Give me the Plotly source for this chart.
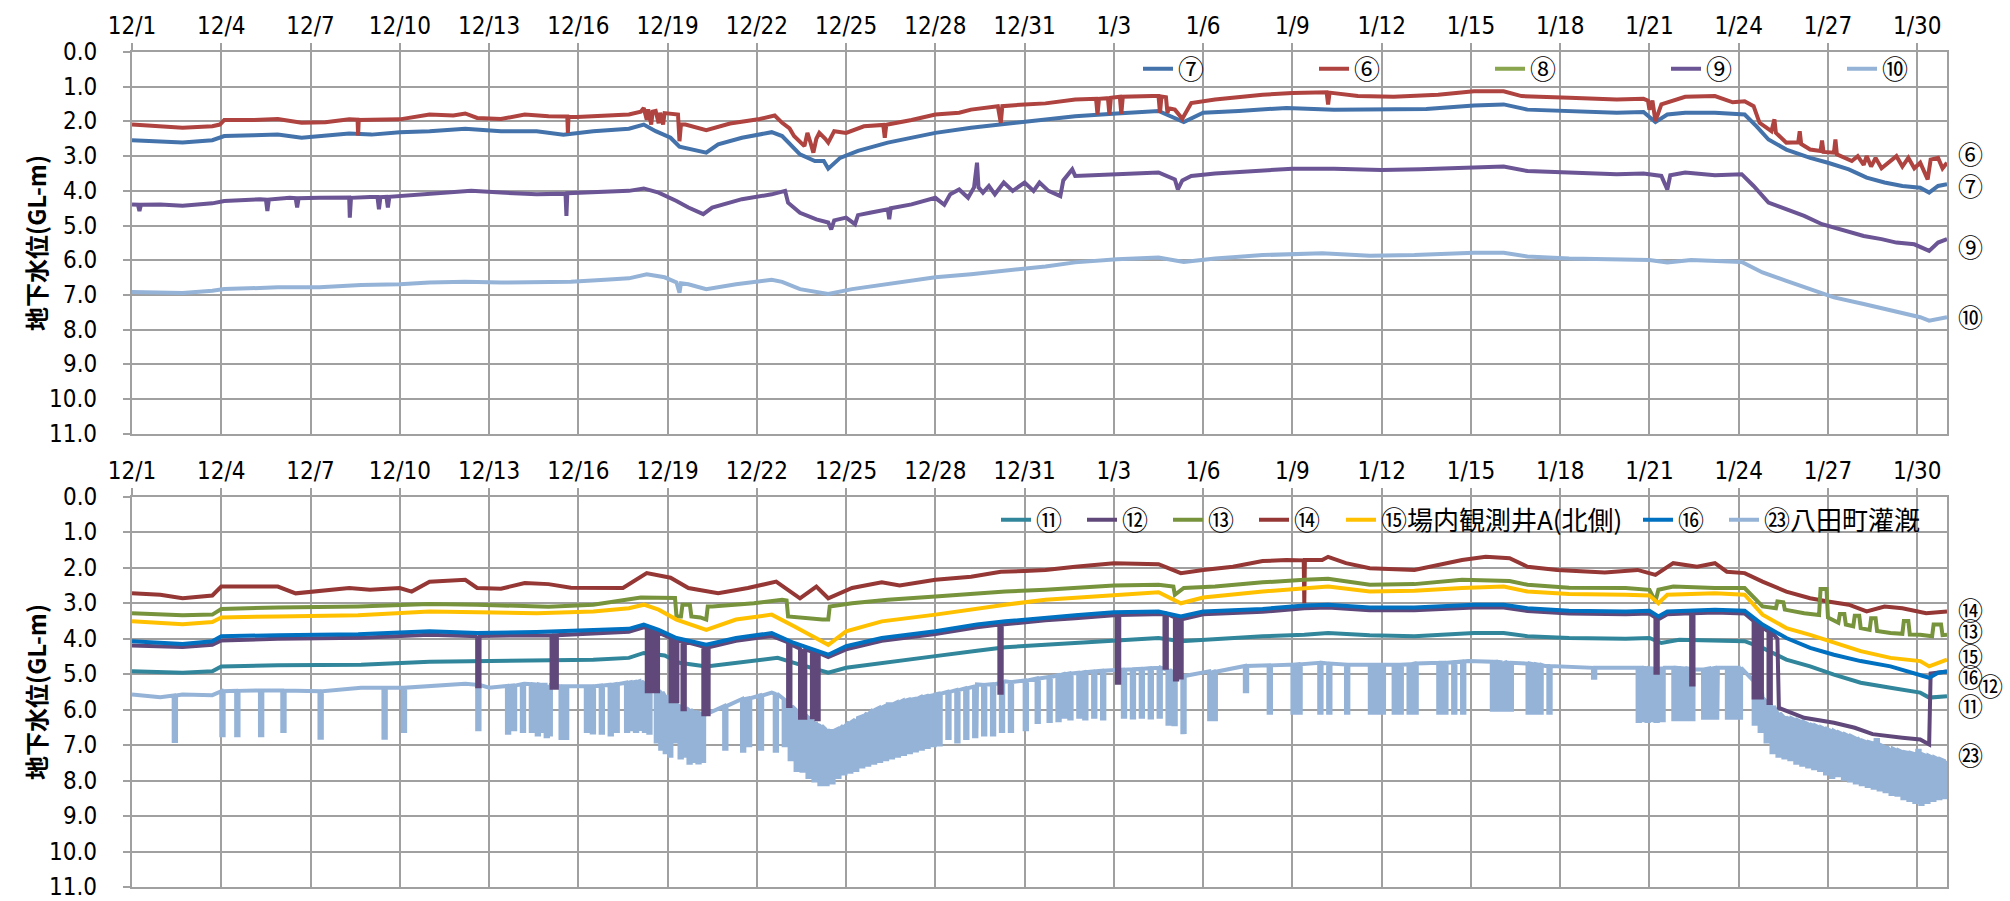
import pandas as pd
import plotly.graph_objects as go

# ---------------- data (day offset from 12/1 00:00, groundwater level GL-m) ----------------
BASE_DATE = "2023-12-01"
X_TICK_STEP_DAYS = 3
Y_TICKS = [0, 1, 2, 3, 4, 5, 6, 7, 8, 9, 10, 11]
Y_TICK_LABELS = ["0.0", "1.0", "2.0", "3.0", "4.0", "5.0", "6.0", "7.0", "8.0", "9.0", "10.0", "11.0"]

# upper chart
W6 = [[0,2.09],[0.95,2.14],[1.7,2.18],[2.7,2.14],[2.95,2.09],[3.1,1.96],[4.1,1.96],[4.9,1.93],[5.7,2.04],[6.5,2.02],
      [7.3,1.94],[7.58,1.95],[7.6,2.40],[7.62,1.96],[8.05,1.96],[9.0,1.94],[10.0,1.80],[10.8,1.83],[11.2,1.77],[11.6,1.90],
      [12.4,1.93],[13.2,1.80],[14.0,1.85],[14.63,1.86],[14.65,2.33],[14.67,1.87],[14.95,1.87],[15.9,1.83],[16.7,1.80],
      [17.1,1.72],[17.2,1.61],[17.3,1.95],[17.35,1.65],[17.45,2.09],[17.5,1.72],[17.6,1.70],[17.7,2.05],[17.75,1.75],
      [17.85,2.09],[17.9,1.76],[18.1,1.77],[18.35,1.80],[18.4,2.57],[18.45,2.09],[18.6,2.09],[19.3,2.25],[20.1,2.06],
      [21.1,1.93],[21.6,1.83],[21.85,2.04],[22.1,2.20],[22.25,2.42],[22.6,2.71],[22.7,2.33],[22.8,2.60],[22.9,2.90],
      [23.0,2.50],[23.1,2.33],[23.3,2.50],[23.4,2.61],[23.6,2.28],[24.0,2.33],[24.6,2.14],[25.25,2.10],[25.3,2.47],
      [25.35,2.10],[25.4,2.09],[26.2,1.96],[27.0,1.80],[27.8,1.75],[28.2,1.66],[29.1,1.56],[29.2,2.04],[29.25,1.56],
      [30.0,1.51],[30.7,1.48],[31.7,1.37],[32.4,1.35],[32.45,1.80],[32.5,1.35],[32.8,1.33],[32.85,1.80],[32.9,1.32],
      [33.2,1.29],[33.25,1.78],[33.3,1.29],[34.3,1.27],[34.5,1.27],[34.55,1.75],[34.6,1.28],[34.75,1.30],[34.8,1.75],
      [34.85,1.62],[35.05,1.66],[35.3,1.92],[35.6,1.47],[36.4,1.37],[38.0,1.23],[39.0,1.18],[40.15,1.16],[40.2,1.51],
      [40.25,1.17],[41.2,1.27],[42.4,1.29],[43.9,1.23],[45.1,1.13],[46.1,1.13],[46.7,1.27],[48.3,1.32],[49.9,1.37],
      [50.8,1.35],[50.95,1.40],[51.0,1.66],[51.1,1.40],[51.2,1.99],[51.4,1.51],[52.2,1.29],[53.2,1.27],[53.8,1.45],
      [54.2,1.42],[54.5,1.56],[54.7,2.04],[55.1,2.28],[55.2,1.94],[55.25,2.33],[55.6,2.61],[56.0,2.60],[56.05,2.28],
      [56.1,2.65],[56.4,2.81],[56.75,2.85],[56.8,2.55],[56.85,2.88],[57.2,2.90],[57.25,2.52],[57.3,2.95],[57.8,3.14],
      [58.0,3.00],[58.2,3.25],[58.3,3.00],[58.45,3.30],[58.6,3.05],[58.8,3.35],[59.1,3.14],[59.3,3.00],[59.5,3.30],
      [59.7,3.05],[59.9,3.35],[60.1,3.19],[60.35,3.67],[60.45,3.10],[60.7,3.05],[60.85,3.35],[61.0,3.19]]
W7 = [[0,2.54],[0.95,2.57],[1.7,2.61],[2.7,2.54],[3.1,2.42],[4.1,2.40],[4.9,2.38],[5.7,2.47],[6.5,2.42],[7.3,2.35],
      [8.05,2.38],[9.0,2.31],[10.0,2.28],[11.2,2.21],[12.4,2.28],[13.6,2.28],[14.5,2.38],[15.5,2.28],[16.7,2.21],
      [17.2,2.09],[17.6,2.28],[18.1,2.47],[18.4,2.73],[19.3,2.90],[19.7,2.66],[20.5,2.47],[21.5,2.31],[21.85,2.42],
      [22.45,2.95],[22.95,3.14],[23.25,3.14],[23.4,3.36],[23.8,3.05],[24.4,2.85],[25.4,2.61],[26.2,2.47],[27.0,2.33],
      [28.2,2.18],[29.2,2.09],[30.0,1.99],[30.7,1.93],[31.7,1.85],[33.1,1.77],[34.5,1.70],[35.35,2.02],[36.0,1.75],
      [37.2,1.70],[38.8,1.61],[40.4,1.66],[42.0,1.66],[43.5,1.64],[45.1,1.54],[46.1,1.51],[46.9,1.66],[48.3,1.70],
      [49.9,1.75],[50.8,1.73],[51.2,2.02],[51.6,1.80],[52.2,1.75],[53.2,1.75],[54.0,1.77],[54.2,1.80],[54.6,2.14],
      [55.0,2.52],[55.6,2.81],[56.4,3.05],[57.0,3.19],[57.7,3.38],[58.3,3.62],[58.9,3.76],[59.5,3.86],[60.1,3.91],
      [60.4,4.05],[60.7,3.86],[61.0,3.81]]
W8 = []
W9 = [[0,4.39],[0.2,4.40],[0.25,4.58],[0.3,4.40],[0.95,4.39],[1.7,4.43],[2.7,4.36],[3.1,4.29],[4.3,4.24],[4.5,4.25],
      [4.55,4.58],[4.6,4.25],[5.3,4.20],[5.5,4.21],[5.55,4.48],[5.6,4.21],[6.3,4.20],[7.3,4.19],[7.32,4.77],[7.36,4.20],
      [8.0,4.18],[8.25,4.18],[8.3,4.53],[8.35,4.18],[8.55,4.17],[8.6,4.48],[8.65,4.17],[9.0,4.15],[10.0,4.10],[11.4,4.00],
      [12.4,4.05],[13.6,4.10],[14.57,4.08],[14.6,4.72],[14.63,4.07],[15.5,4.05],[16.7,4.00],[17.2,3.93],[17.7,4.05],
      [18.3,4.29],[18.7,4.48],[19.2,4.67],[19.5,4.48],[20.5,4.24],[21.5,4.10],[21.95,4.00],[22.05,4.34],[22.45,4.63],
      [23.0,4.82],[23.4,4.91],[23.5,5.11],[23.6,4.85],[24.0,4.77],[24.3,4.96],[24.4,4.70],[24.8,4.63],[25.4,4.53],
      [25.45,4.82],[25.5,4.50],[26.2,4.39],[27.0,4.20],[27.3,4.40],[27.5,4.10],[27.8,3.96],[28.1,4.20],[28.3,3.90],
      [28.4,3.19],[28.45,3.90],[28.6,4.05],[28.8,3.86],[29.0,4.10],[29.3,3.76],[29.6,4.00],[30.0,3.76],[30.3,4.00],
      [30.5,3.76],[30.8,4.00],[31.2,4.15],[31.3,3.70],[31.6,3.38],[31.7,3.57],[33.1,3.52],[34.5,3.47],[35.05,3.67],
      [35.15,3.96],[35.3,3.70],[35.6,3.57],[36.4,3.50],[38.0,3.43],[39.0,3.36],[40.4,3.36],[42.0,3.40],[43.3,3.38],
      [45.1,3.33],[46.1,3.30],[46.9,3.43],[48.3,3.47],[49.9,3.52],[50.8,3.50],[51.4,3.57],[51.6,3.96],[51.7,3.55],
      [52.2,3.47],[53.2,3.55],[54.1,3.52],[54.5,3.86],[55.0,4.34],[55.6,4.53],[56.2,4.72],[56.8,4.96],[57.6,5.15],
      [58.2,5.30],[58.8,5.39],[59.3,5.49],[59.9,5.54],[60.4,5.73],[60.7,5.49],[61.0,5.39]]
W10 = [[0,6.91],[1.7,6.94],[2.7,6.88],[3.1,6.83],[4.9,6.78],[6.3,6.78],[7.7,6.71],[9.0,6.69],[10.0,6.64],[11.2,6.62],
       [12.4,6.64],[13.6,6.62],[14.75,6.62],[15.9,6.56],[16.7,6.52],[17.3,6.40],[17.9,6.49],[18.3,6.64],[18.4,6.93],
       [18.45,6.66],[18.7,6.69],[19.3,6.83],[20.3,6.69],[21.5,6.56],[21.85,6.62],[22.45,6.83],[23.4,6.97],[24.2,6.83],
       [25.4,6.69],[27.0,6.49],[28.2,6.40],[29.3,6.30],[30.0,6.24],[30.7,6.18],[31.7,6.06],[33.1,5.97],[34.5,5.92],
       [35.35,6.05],[36.4,5.95],[38.0,5.85],[40.0,5.80],[41.6,5.87],[43.1,5.85],[45.1,5.78],[46.1,5.78],[46.9,5.89],
       [48.3,5.95],[50.2,5.97],[51.0,5.99],[51.6,6.06],[52.4,5.99],[54.1,6.05],[54.8,6.35],[55.6,6.59],[56.4,6.83],
       [57.2,7.07],[58.2,7.26],[59.1,7.45],[60.1,7.64],[60.4,7.74],[61.0,7.64]]

# lower chart
W11 = [[0,4.92],[1.7,4.96],[2.7,4.92],[3.0,4.78],[4.9,4.75],[7.7,4.73],[10.0,4.65],[11.6,4.63],[13.6,4.62],[15.5,4.59],
       [16.7,4.54],[17.2,4.40],[17.9,4.47],[18.4,4.68],[19.3,4.78],[20.3,4.68],[21.7,4.54],[22.25,4.68],[23.4,4.96],
       [24.0,4.82],[25.2,4.68],[27.0,4.49],[28.4,4.34],[29.35,4.24],[30.7,4.17],[31.7,4.12],[33.0,4.05],[34.5,3.98],
       [35.25,4.07],[36.0,4.03],[38.0,3.93],[39.4,3.89],[40.2,3.84],[41.6,3.90],[43.1,3.93],[45.1,3.84],[46.1,3.84],
       [46.9,3.93],[48.3,3.98],[50.2,4.00],[51.0,3.98],[51.4,4.12],[52.0,4.03],[54.2,4.07],[54.8,4.26],[55.6,4.59],
       [56.4,4.78],[57.2,5.01],[58.1,5.24],[59.1,5.38],[60.1,5.52],[60.4,5.66],[61.0,5.62]]
W12 = [[0,4.19],[1.7,4.23],[2.7,4.17],[3.0,4.05],[4.9,4.00],[7.7,3.97],[10.0,3.89],[11.6,3.93],[13.6,3.90],[15.5,3.86],
       [16.7,3.80],[17.2,3.68],[17.7,3.83],[18.4,4.06],[19.3,4.24],[20.3,4.06],[21.5,3.92],[22.25,4.20],[22.9,4.38],
       [23.4,4.52],[24.0,4.30],[25.2,4.06],[27.0,3.87],[28.4,3.68],[29.35,3.59],[30.7,3.48],[31.7,3.42],[33.0,3.33],
       [34.5,3.31],[35.25,3.45],[36.0,3.31],[38.0,3.24],[39.4,3.14],[40.2,3.12],[41.6,3.20],[43.1,3.20],[45.1,3.12],
       [46.1,3.12],[46.9,3.22],[48.3,3.29],[50.2,3.31],[51.0,3.29],[51.3,3.45],[51.6,3.31],[53.2,3.26],[54.2,3.29],
       [54.8,3.68],[55.3,4.00],[55.35,5.95],[56.2,6.23],[57.2,6.37],[57.9,6.51],[58.5,6.69],[59.5,6.79],[60.1,6.84],
       [60.4,6.98],[60.45,4.98],[61.0,4.92]]
W12_DROPS = [[11.6,3.92,5.34],[14.1,3.90,5.38],[14.2,3.90,5.38],[17.3,3.70,5.48],[17.45,3.72,5.48],[17.6,3.80,5.48],
             [18.1,3.98,5.76],[18.25,4.02,5.76],[18.5,4.08,5.99],[19.2,4.22,6.13],[19.3,4.24,6.13],[22.05,4.10,5.90],
             [22.45,4.28,6.23],[22.55,4.30,6.23],[22.85,4.36,6.27],[23.0,4.40,6.27],[29.15,3.60,5.52],[33.1,3.33,5.24],
             [34.7,3.30,4.82],[35.05,3.40,5.15],[35.2,3.45,5.15],[51.2,3.40,4.96],[52.4,3.28,5.29],[54.5,3.50,5.66],
             [54.6,3.55,5.66],[54.7,3.62,5.66],[55.0,3.80,5.81]]
W13 = [[0,3.28],[1.7,3.34],[2.7,3.32],[3.0,3.16],[4.9,3.12],[7.6,3.09],[10.0,3.02],[11.6,3.04],[14.0,3.10],[15.5,3.04],
       [17.1,2.84],[18.0,2.84],[18.25,2.85],[18.3,3.37],[18.45,3.37],[18.5,3.04],[18.75,3.04],[18.8,3.37],[19.1,3.40],
       [19.3,3.46],[19.35,3.09],[19.5,3.09],[20.9,3.00],[21.85,2.90],[22.0,2.92],[22.05,3.37],[22.6,3.42],[23.2,3.46],
       [23.4,3.46],[23.45,3.09],[24.2,3.00],[25.4,2.90],[27.0,2.81],[28.2,2.74],[29.35,2.67],[30.7,2.62],[31.7,2.57],
       [33.0,2.50],[34.5,2.48],[35.0,2.53],[35.05,2.76],[35.35,2.57],[36.4,2.53],[38.0,2.41],[39.4,2.34],[40.2,2.31],
       [41.6,2.48],[43.1,2.46],[44.7,2.34],[46.3,2.37],[46.9,2.48],[48.3,2.56],[50.2,2.57],[51.0,2.62],[51.2,2.95],
       [51.3,2.62],[51.8,2.53],[53.2,2.57],[54.2,2.57],[54.8,3.09],[55.25,3.14],[55.3,2.95],[55.5,2.97],[55.55,3.18],
       [56.2,3.28],[56.7,3.33],[56.75,2.60],[56.95,2.60],[57.0,3.40],[57.35,3.55],[57.4,3.30],[57.55,3.30],[57.6,3.60],
       [57.85,3.65],[57.9,3.35],[58.05,3.35],[58.1,3.70],[58.4,3.75],[58.45,3.42],[58.6,3.42],[58.65,3.78],[59.1,3.84],
       [59.5,3.86],[59.55,3.50],[59.7,3.50],[59.75,3.88],[60.1,3.89],[60.5,3.93],[60.55,3.60],[60.8,3.60],[60.85,3.90],
       [61.0,3.89]]
W14 = [[0,2.72],[0.95,2.76],[1.7,2.86],[2.7,2.78],[3.0,2.53],[4.1,2.53],[4.9,2.53],[5.5,2.72],[6.5,2.65],[7.3,2.57],
       [8.0,2.62],[9.0,2.57],[9.4,2.67],[10.0,2.39],[11.2,2.34],[11.6,2.57],[12.4,2.59],[13.2,2.43],[14.0,2.46],
       [14.75,2.56],[16.5,2.57],[17.3,2.15],[18.1,2.28],[18.7,2.57],[19.7,2.72],[20.7,2.57],[21.65,2.39],[22.45,2.86],
       [23.0,2.53],[23.4,2.86],[24.2,2.57],[25.2,2.41],[25.8,2.50],[27.0,2.34],[28.2,2.25],[29.2,2.11],[30.0,2.09],
       [30.7,2.06],[31.7,1.97],[33.0,1.87],[34.5,1.90],[35.25,2.15],[36.0,2.06],[37.0,1.97],[38.0,1.81],[38.8,1.78],
       [39.38,1.79],[39.4,3.00],[39.42,1.78],[40.0,1.78],[40.2,1.69],[40.8,1.87],[41.6,2.01],[43.1,2.06],[44.7,1.78],
       [45.5,1.69],[46.3,1.73],[46.9,1.97],[47.9,2.06],[49.5,2.13],[50.6,2.06],[51.2,2.20],[51.8,1.87],[52.6,1.97],
       [53.2,1.87],[53.6,2.11],[54.2,2.15],[54.8,2.39],[55.6,2.67],[56.4,2.86],[57.0,2.95],[57.7,3.04],[58.3,3.23],
       [58.9,3.09],[59.5,3.14],[60.3,3.28],[61.0,3.23]]
W15 = [[0,3.51],[1.7,3.59],[2.7,3.53],[3.0,3.40],[4.9,3.37],[7.6,3.34],[10.0,3.23],[11.6,3.25],[13.6,3.28],[15.5,3.23],
       [16.7,3.14],[17.2,3.04],[17.7,3.18],[18.3,3.46],[19.3,3.75],[20.3,3.46],[21.5,3.32],[22.25,3.65],[22.95,3.98],
       [23.4,4.17],[24.0,3.79],[25.2,3.51],[27.0,3.32],[28.4,3.14],[29.35,3.04],[30.7,2.90],[31.7,2.84],[33.0,2.76],
       [34.5,2.69],[35.25,3.00],[36.0,2.84],[38.0,2.67],[39.4,2.59],[40.2,2.53],[41.6,2.67],[43.1,2.65],[44.7,2.57],
       [46.1,2.53],[46.9,2.67],[48.3,2.74],[50.2,2.76],[51.0,2.78],[51.3,3.00],[51.6,2.76],[53.2,2.72],[54.2,2.76],
       [54.8,3.32],[55.6,3.70],[56.4,3.89],[57.2,4.12],[58.1,4.35],[59.1,4.54],[60.1,4.63],[60.4,4.78],[61.0,4.59]]
W16 = [[0,4.07],[1.7,4.15],[2.7,4.07],[3.0,3.93],[4.9,3.90],[7.6,3.87],[10.0,3.79],[11.6,3.84],[13.6,3.81],[15.5,3.77],
       [16.7,3.72],[17.2,3.60],[17.7,3.75],[18.3,3.98],[19.3,4.17],[20.3,3.98],[21.5,3.84],[22.25,4.12],[22.95,4.31],
       [23.4,4.45],[24.0,4.21],[25.2,3.98],[27.0,3.79],[28.4,3.60],[29.35,3.51],[30.7,3.40],[31.7,3.34],[33.0,3.25],
       [34.5,3.23],[35.25,3.37],[36.0,3.23],[38.0,3.16],[39.4,3.06],[40.2,3.04],[41.6,3.12],[43.1,3.12],[45.1,3.04],
       [46.1,3.04],[46.9,3.14],[48.3,3.21],[50.2,3.23],[51.0,3.21],[51.3,3.37],[51.6,3.23],[53.2,3.18],[54.2,3.21],
       [54.8,3.60],[55.6,3.98],[56.4,4.26],[57.2,4.45],[58.1,4.63],[59.1,4.78],[59.9,4.96],[60.4,5.10],[60.7,4.96],
       [61.0,4.92]]
W23 = [[0,5.57],[0.95,5.65],[1.7,5.57],[2.7,5.59],[3.0,5.48],[4.9,5.46],[6.3,5.48],[7.7,5.38],[9.0,5.38],[10.0,5.34],
       [11.2,5.27],[12.0,5.38],[13.2,5.27],[14.4,5.34],[15.5,5.34],[16.7,5.24],[17.1,5.20],[17.5,5.38],[18.3,5.85],
       [19.3,6.13],[20.3,5.76],[21.5,5.52],[22.05,5.85],[23.0,6.41],[23.4,6.60],[24.4,6.23],[25.4,5.85],[27.0,5.57],
       [28.4,5.29],[29.35,5.20],[30.7,5.10],[31.7,4.96],[33.0,4.87],[34.5,4.82],[35.35,5.06],[36.2,4.92],[37.4,4.77],
       [38.9,4.73],[39.8,4.68],[41.0,4.73],[42.2,4.73],[44.1,4.68],[44.9,4.63],[46.1,4.68],[47.5,4.77],[49.2,4.82],
       [50.5,4.82],[51.5,4.82],[52.5,4.87],[53.3,4.82],[53.9,4.82],[54.4,5.10],[54.8,5.66],[55.6,6.23],[56.4,6.41],
       [57.2,6.60],[58.1,6.88],[59.1,7.16],[60.1,7.26],[61.0,7.44]]
W23_DROPS = [[1.4,5.60,6.88],[3.0,5.48,6.72],[3.5,5.47,6.72],[4.3,5.46,6.72],[5.05,5.46,6.60],[6.3,5.48,6.79],
             [8.45,5.38,6.79],[9.1,5.38,6.60],[11.6,5.30,6.55],[12.6,5.33,6.65],[12.8,5.32,6.55],[13.1,5.28,6.60],
             [13.4,5.28,6.60],[13.6,5.29,6.70],[13.75,5.30,6.60],[13.9,5.30,6.75],[14.0,5.31,6.70],[14.4,5.34,6.80],
             [14.55,5.34,6.80],[15.25,5.34,6.60],[15.45,5.34,6.70],[15.75,5.32,6.65],[16.05,5.30,6.70],[16.25,5.28,6.60],
             [16.6,5.24,6.60],[16.75,5.23,6.55],[16.9,5.22,6.60],[17.05,5.20,6.60],[17.2,5.25,6.60],[17.35,5.30,6.65],
             [17.6,5.45,6.90],[17.75,5.50,7.10],[17.9,5.60,7.20],[18.05,5.70,7.30],[18.2,5.80,6.90],[18.4,5.90,7.35],
             [18.55,5.95,7.30],[18.7,6.00,7.50],[18.85,6.05,7.45],[19.0,6.10,7.49],[19.15,6.12,7.45],[19.9,5.90,7.10],
             [20.5,5.70,7.16],[20.7,5.68,7.00],[21.1,5.60,7.10],[21.6,5.55,7.16],[21.9,5.70,7.00],[22.1,5.90,7.40],
             [22.3,6.00,7.70],[22.5,6.10,7.72],[22.7,6.20,7.90],[22.9,6.35,8.00],[23.1,6.45,8.10],[23.3,6.55,8.10],
             [23.5,6.60,8.05],[23.7,6.55,7.90],[23.9,6.45,7.80],[24.1,6.35,7.75],[24.3,6.28,7.70],[24.5,6.20,7.60],
             [24.7,6.10,7.55],[24.9,6.00,7.50],[25.1,5.95,7.45],[25.3,5.90,7.40],[25.5,5.85,7.35],[25.7,5.80,7.30],
             [25.9,5.75,7.25],[26.1,5.72,7.20],[26.3,5.70,7.15],[26.5,5.65,7.10],[26.7,5.62,7.05],[26.9,5.60,7.00],
             [27.1,5.55,6.98],[27.4,5.50,6.80],[27.7,5.45,6.90],[28.0,5.40,6.80],[28.3,5.35,6.75],[28.6,5.30,6.70],
             [28.9,5.28,6.70],[29.2,5.25,6.60],[29.5,5.22,6.60],[30.0,5.18,6.55],[30.4,5.12,6.35],[30.8,5.08,6.32],
             [31.1,5.03,6.30],[31.3,5.00,6.20],[31.5,4.98,6.25],[31.8,4.96,6.20],[32.0,4.94,6.25],[32.3,4.92,6.20],
             [32.6,4.90,6.25],[33.3,4.87,6.20],[33.6,4.86,6.22],[33.9,4.85,6.20],[34.2,4.83,6.22],[34.5,4.82,6.20],
             [34.8,4.88,6.40],[35.0,4.95,6.41],[35.3,5.05,6.69],[36.2,4.95,6.27],[36.35,4.93,6.27],[37.4,4.77,5.48],
             [38.2,4.75,6.09],[39.0,4.73,6.09],[39.2,4.72,6.09],[39.9,4.68,6.09],[40.2,4.70,6.09],[40.8,4.73,6.09],
             [41.6,4.73,6.09],[41.8,4.73,6.09],[42.0,4.73,6.09],[42.4,4.73,6.09],[42.6,4.73,6.09],[42.9,4.72,6.09],
             [43.1,4.70,6.09],[43.9,4.68,6.09],[44.1,4.68,6.09],[44.4,4.66,6.09],[44.7,4.64,6.09],[45.7,4.65,6.00],
             [45.85,4.65,6.00],[46.0,4.66,6.00],[46.15,4.67,6.00],[46.3,4.68,6.00],[46.9,4.70,6.09],[47.1,4.72,6.09],
             [47.3,4.74,6.09],[47.6,4.77,6.09],[49.1,4.82,5.10],[50.6,4.82,6.32],[50.75,4.82,6.30],[50.9,4.83,6.32],
             [51.05,4.84,6.30],[51.2,4.85,6.32],[51.4,4.84,6.30],[51.8,4.82,6.27],[52.0,4.83,6.27],[52.2,4.84,6.27],
             [52.4,4.86,6.27],[52.8,4.86,6.23],[53.0,4.84,6.23],[53.2,4.82,6.23],[53.6,4.82,6.23],[53.8,4.82,6.23],
             [54.0,4.82,6.23],[54.5,5.20,6.40],[54.7,5.50,6.60],[54.9,5.75,6.90],[55.1,5.90,7.20],[55.3,6.10,7.30],
             [55.5,6.20,7.35],[55.7,6.25,7.40],[55.9,6.30,7.50],[56.1,6.35,7.55],[56.3,6.40,7.60],[56.5,6.45,7.65],
             [56.7,6.50,7.70],[56.9,6.55,7.80],[57.1,6.60,7.90],[57.3,6.65,7.85],[57.5,6.70,7.95],[57.7,6.75,8.00],
             [57.9,6.80,8.05],[58.1,6.88,8.10],[58.3,6.92,8.15],[58.5,6.95,8.20],[58.6,6.80,8.20],[58.7,7.00,8.25],
             [58.9,7.05,8.30],[59.1,7.10,8.38],[59.3,7.15,8.40],[59.5,7.20,8.50],[59.7,7.22,8.55],[59.9,7.25,8.60],
             [60.0,7.10,8.60],[60.1,7.26,8.66],[60.3,7.30,8.60],[60.5,7.35,8.55],[60.7,7.40,8.50],[60.9,7.44,8.47]]

Y_TITLE = "地下水位(GL-m)"

# ---------------- helpers ----------------
base = pd.Timestamp(BASE_DATE)


def to_xy(pairs, drops=None, w=0.08):
    pts = [tuple(p) for p in pairs]
    if drops:
        for d, top, bot in drops:
            pts += [(d, top), (d + 0.001, bot), (d + w, bot), (d + w + 0.001, top)]
    pts.sort(key=lambda p: p[0])
    xs = [base + pd.Timedelta(days=p[0]) for p in pts]
    ys = [p[1] for p in pts]
    return xs, ys


W, H = 2010, 901
ML, MR, MT, MB = 132, 63, 48, 14
PW, PH = W - ML - MR, H - MT - MB


def px_x(px):
    return (px - ML) / PW


def px_y(py):
    return (H - MB - py) / PH


LW = 4
fig = go.Figure()

# (name, data, drops, color, legend id, rank) in drawing order
top_series = [
    ("⑩", W10, None, "#95B3D7", "legend5", 5),
    ("⑨", W9, None, "#6B5594", "legend", 4),
    ("⑧", W8, None, "#89A54E", "legend", 3),
    ("⑦", W7, None, "#4472AA", "legend", 1),
    ("⑥", W6, None, "#AE4340", "legend", 2),
]
bot_series = [
    ("㉓八田町灌漑", W23, W23_DROPS, "#95B3D7", "legend6", 7),
    ("⑪", W11, None, "#31869B", "legend2", 1),
    ("⑭", W14, None, "#953735", "legend2", 4),
    ("⑬", W13, None, "#77933C", "legend2", 3),
    ("⑮場内観測井A(北側)", W15, None, "#FFC000", "legend3", 5),
    ("⑫", W12, W12_DROPS, "#60497A", "legend2", 2),
    ("⑯", W16, None, "#0070C0", "legend4", 6),
]
for series, xa, ya in ((top_series, "x", "y"), (bot_series, "x2", "y2")):
    for name, data, drops, color, leg, rank in series:
        if data:
            xs, ys = to_xy(data, drops)
        else:
            xs, ys = [base], [None]
        fig.add_trace(go.Scatter(x=xs, y=ys, name=name, mode="lines", line=dict(color=color, width=LW),
                                 xaxis=xa, yaxis=ya, legend=leg, legendrank=rank))

# ---------------- layout ----------------
GRID = "#A0A0A0"
TICK_FONT = dict(family="Liberation Sans Narrow, DejaVu Sans Condensed, Liberation Sans, sans-serif", size=24,
                 color="black")
x_end = base + pd.Timedelta(days=61)

xcommon = dict(type="date", range=[base, x_end], tick0=base, dtick=X_TICK_STEP_DAYS * 86400000,
               tickformat="%-m/%-d", side="top", showgrid=True, gridcolor=GRID, gridwidth=1.5,
               ticks="outside", ticklen=7, tickcolor=GRID, tickwidth=1.5, showline=True, linecolor=GRID,
               linewidth=1.5, mirror=True, tickfont=TICK_FONT, zeroline=False)
title_font = dict(family="Noto Sans CJK JP, sans-serif", size=24, color="black", weight="bold")
ycommon = dict(range=[Y_TICKS[-1], Y_TICKS[0]], tickmode="array", tickvals=Y_TICKS, showgrid=True, gridcolor=GRID,
               gridwidth=1.5, ticks="outside", ticklen=7, tickcolor=GRID, tickwidth=1.5, showline=True,
               linecolor=GRID, linewidth=1.5, mirror=True, showticklabels=False, zeroline=False,
               title=dict(text=Y_TITLE, font=title_font, standoff=70), automargin=False)

top_dom = [px_y(431.7), 1.0]
bot_dom = [0.0, px_y(495)]

leg_font = dict(family="Noto Sans CJK JP, sans-serif", size=26, color="black")


def leg(swatch_px, center_py, entry=None):
    d = dict(orientation="h", x=px_x(swatch_px - 5), xanchor="left", y=px_y(center_py), yanchor="middle",
             bgcolor="rgba(0,0,0,0)", font=leg_font, itemwidth=30, traceorder="normal", borderwidth=0)
    if entry:
        d["entrywidth"] = entry
    return d


fig.update_layout(
    width=W, height=H, margin=dict(l=ML, r=MR, t=MT, b=MB),
    paper_bgcolor="white", plot_bgcolor="white", showlegend=True,
    xaxis=dict(domain=[0, 1], anchor="y", **xcommon),
    yaxis=dict(domain=top_dom, anchor="x", **ycommon),
    xaxis2=dict(domain=[0, 1], anchor="y2", **xcommon),
    yaxis2=dict(domain=bot_dom, anchor="x2", **ycommon),
    legend=leg(1143, 65, 131),
    legend5=leg(1847, 65),
    legend2=leg(1001, 518, 41),
    legend3=leg(1346, 518),
    legend4=leg(1643, 518),
    legend6=leg(1729, 518),
)

# white backgrounds behind the legends (hide gridlines between 0.0 and 1.0)
fig.add_shape(type="rect", xref="paper", yref="y", x0=px_x(1125), x1=1, y0=0, y1=1,
              fillcolor="white", line_width=0, layer="between")
fig.add_shape(type="rect", xref="paper", yref="y2", x0=px_x(985), x1=1, y0=0, y1=1,
              fillcolor="white", line_width=0, layer="between")

annotations = []
# y tick labels (right edge 33 px left of the plot area)
for yr in ("y", "y2"):
    for v, t in zip(Y_TICKS, Y_TICK_LABELS):
        annotations.append(dict(text=t, x=px_x(99), xref="paper", xanchor="right", y=v, yref=yr,
                                yanchor="middle", showarrow=False, font=TICK_FONT))

ann_font = dict(family="Noto Sans CJK JP, sans-serif", size=25, color="black")
top_labels = [("⑥", 2.92, 1970), ("⑦", 3.84, 1970), ("⑨", 5.59, 1970), ("⑩", 7.6, 1970)]
bot_labels = [("⑭", 3.17, 1970), ("⑬", 3.74, 1970), ("⑮", 4.47, 1970), ("⑯", 5.06, 1970),
              ("⑫", 5.31, 1991), ("⑪", 5.87, 1970), ("㉓", 7.25, 1970)]
for labels, yr in ((top_labels, "y"), (bot_labels, "y2")):
    for t, v, px in labels:
        annotations.append(dict(text=t, x=px_x(px), xref="paper", xanchor="center", y=v, yref=yr,
                                yanchor="middle", showarrow=False, font=ann_font))
fig.update_layout(annotations=annotations)

fig.write_html("out.html")
